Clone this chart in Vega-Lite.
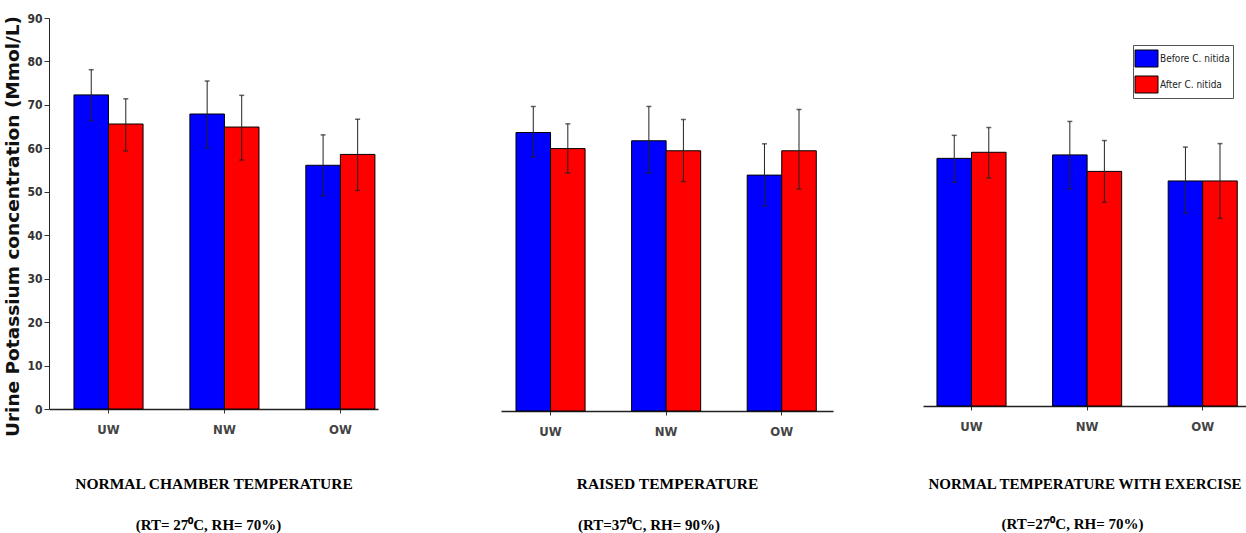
{
  "$schema": "https://vega.github.io/schema/vega-lite/v6.json",
  "padding": {"left": 3, "top": 12, "right": 0, "bottom": 0},
  "background": "#ffffff",
  "config": {"view": {"stroke": null}, "axis": {"grid": false}},
  "datasets": {
    "p1": [
      {"group": "UW", "phase": "Before C. nitida", "value": 72.3, "lo": 66.4, "hi": 78.1},
      {"group": "UW", "phase": "After C. nitida", "value": 65.6, "lo": 59.4, "hi": 71.4},
      {"group": "NW", "phase": "Before C. nitida", "value": 67.9, "lo": 60.1, "hi": 75.5},
      {"group": "NW", "phase": "After C. nitida", "value": 64.9, "lo": 57.3, "hi": 72.2},
      {"group": "OW", "phase": "Before C. nitida", "value": 56.1, "lo": 49.1, "hi": 63.1},
      {"group": "OW", "phase": "After C. nitida", "value": 58.6, "lo": 50.3, "hi": 66.7}
    ],
    "p2": [
      {"group": "UW", "phase": "Before C. nitida", "value": 64.1, "lo": 58.5, "hi": 70.1},
      {"group": "UW", "phase": "After C. nitida", "value": 60.4, "lo": 54.8, "hi": 66.1},
      {"group": "NW", "phase": "Before C. nitida", "value": 62.2, "lo": 54.8, "hi": 70.1},
      {"group": "NW", "phase": "After C. nitida", "value": 59.9, "lo": 52.8, "hi": 67.1},
      {"group": "OW", "phase": "Before C. nitida", "value": 54.3, "lo": 47.2, "hi": 61.5},
      {"group": "OW", "phase": "After C. nitida", "value": 59.9, "lo": 51.1, "hi": 69.4}
    ],
    "p3": [
      {"group": "UW", "phase": "Before C. nitida", "value": 57.0, "lo": 51.5, "hi": 62.3},
      {"group": "UW", "phase": "After C. nitida", "value": 58.4, "lo": 52.5, "hi": 64.1},
      {"group": "NW", "phase": "Before C. nitida", "value": 57.8, "lo": 50.0, "hi": 65.5},
      {"group": "NW", "phase": "After C. nitida", "value": 54.0, "lo": 46.9, "hi": 61.1},
      {"group": "OW", "phase": "Before C. nitida", "value": 51.8, "lo": 44.4, "hi": 59.6},
      {"group": "OW", "phase": "After C. nitida", "value": 51.8, "lo": 43.2, "hi": 60.4}
    ]
  },
  "spacing": 123,
  "resolve": {"scale": {"color": "independent"}},
  "hconcat": [
    {
      "width": 329,
      "height": 391,
      "data": {"name": "p1"},
      "title": {"text": "(RT= 27⁰C, RH= 70%)", "orient": "bottom", "anchor": "middle", "font": "Liberation Serif", "fontSize": 15, "fontWeight": "bold", "color": "#000", "offset": 26, "dx": -5},
      "layer": [
        {
          "mark": {"type": "bar", "stroke": "#000", "strokeWidth": 1},
          "encoding": {
            "x": {"field": "group", "type": "nominal", "sort": ["UW", "NW", "OW"],
              "scale": {"paddingInner": 0.404, "paddingOuter": 0.121, "align": 0.89},
              "axis": {"title": "NORMAL CHAMBER TEMPERATURE", "titleFont": "Liberation Serif", "titleFontSize": 15.5, "titleFontWeight": "bold", "titleColor": "#000", "titlePadding": 40,
                "labelAngle": 0, "labelFont": "Liberation Sans Narrow, DejaVu Sans Condensed, Liberation Sans", "labelFontSize": 13, "labelFontWeight": "bold", "labelColor": "#444", "labelPadding": 10, "labelBaseline": "top",
                "tickSize": 4, "tickColor": "#333", "domainColor": "#222", "domainWidth": 1.5}},
            "xOffset": {"field": "phase", "type": "nominal", "sort": ["Before C. nitida", "After C. nitida"], "scale": {"paddingInner": 0, "paddingOuter": 0}},
            "y": {"field": "value", "type": "quantitative", "scale": {"domain": [0, 90], "nice": false},
              "axis": {"title": "Urine Potassium concentration (Mmol/L)", "titleFont": "DejaVu Sans", "titleFontSize": 18.5, "titleFontWeight": "bold", "titleColor": "#111", "titlePadding": 4, "titleY": 208,
                "values": [0, 5, 10, 15, 20, 25, 30, 35, 40, 45, 50, 55, 60, 65, 70, 75, 80, 85, 90],
                "labelExpr": "datum.value % 10 === 0 ? datum.label : ''",
                "labelFont": "Liberation Sans Narrow, DejaVu Sans Condensed, Liberation Sans", "labelFontSize": 12, "labelFontWeight": "bold", "labelColor": "#333", "labelPadding": 2,
                "tickSize": {"condition": {"test": "datum.value % 10 === 0", "value": 5}, "value": 3},
                "tickColor": "#333", "domainColor": "#222", "domainWidth": 1}},
            "color": {"field": "phase", "type": "nominal", "scale": {"domain": ["Before C. nitida", "After C. nitida"], "range": ["#0000FF", "#FF0000"]}, "legend": null}
          }
        },
        {
          "mark": {"type": "rule", "color": "#222", "strokeWidth": 1},
          "encoding": {
            "x": {"field": "group", "type": "nominal", "sort": ["UW", "NW", "OW"]},
            "xOffset": {"field": "phase", "type": "nominal", "sort": ["Before C. nitida", "After C. nitida"]},
            "y": {"field": "lo", "type": "quantitative"},
            "y2": {"field": "hi"}
          }
        },
        {
          "mark": {"type": "tick", "orient": "horizontal", "color": "#222", "size": 5, "thickness": 1.5},
          "encoding": {
            "x": {"field": "group", "type": "nominal", "sort": ["UW", "NW", "OW"]},
            "xOffset": {"field": "phase", "type": "nominal", "sort": ["Before C. nitida", "After C. nitida"]},
            "y": {"field": "lo", "type": "quantitative"}
          }
        },
        {
          "mark": {"type": "tick", "orient": "horizontal", "color": "#222", "size": 5, "thickness": 1.5},
          "encoding": {
            "x": {"field": "group", "type": "nominal", "sort": ["UW", "NW", "OW"]},
            "xOffset": {"field": "phase", "type": "nominal", "sort": ["Before C. nitida", "After C. nitida"]},
            "y": {"field": "hi", "type": "quantitative"}
          }
        }
      ]
    },
    {
      "spacing": 90,
      "resolve": {"scale": {"color": "independent"}},
      "hconcat": [
        {
          "width": 332,
          "height": 393,
          "data": {"name": "p2"},
          "title": {"text": "(RT=37⁰C, RH= 90%)", "orient": "bottom", "anchor": "middle", "font": "Liberation Serif", "fontSize": 15, "fontWeight": "bold", "color": "#000", "offset": 26, "dx": -18},
          "layer": [
            {
              "mark": {"type": "bar", "stroke": "#000", "strokeWidth": 1},
              "encoding": {
                "x": {"field": "group", "type": "nominal", "sort": ["UW", "NW", "OW"],
                  "scale": {"paddingInner": 0.404, "paddingOuter": 0.138, "align": 0.47},
                  "axis": {"title": "RAISED TEMPERATURE", "titleFont": "Liberation Serif", "titleFontSize": 15.5, "titleFontWeight": "bold", "titleColor": "#000", "titlePadding": 38,
                    "labelAngle": 0, "labelFont": "Liberation Sans Narrow, DejaVu Sans Condensed, Liberation Sans", "labelFontSize": 13, "labelFontWeight": "bold", "labelColor": "#444", "labelPadding": 10, "labelBaseline": "top",
                    "tickSize": 4, "tickColor": "#333", "domainColor": "#222", "domainWidth": 1.5}},
                "xOffset": {"field": "phase", "type": "nominal", "sort": ["Before C. nitida", "After C. nitida"], "scale": {"paddingInner": 0, "paddingOuter": 0}},
                "y": {"field": "value", "type": "quantitative", "scale": {"domain": [0, 90.46], "nice": false}, "axis": null},
                "color": {"field": "phase", "type": "nominal", "scale": {"domain": ["Before C. nitida", "After C. nitida"], "range": ["#0000FF", "#FF0000"]}, "legend": null}
              }
            },
            {
              "mark": {"type": "rule", "color": "#222", "strokeWidth": 1},
              "encoding": {
                "x": {"field": "group", "type": "nominal", "sort": ["UW", "NW", "OW"]},
                "xOffset": {"field": "phase", "type": "nominal", "sort": ["Before C. nitida", "After C. nitida"]},
                "y": {"field": "lo", "type": "quantitative", "axis": null},
                "y2": {"field": "hi"}
              }
            },
            {
              "mark": {"type": "tick", "orient": "horizontal", "color": "#222", "size": 5, "thickness": 1.5},
              "encoding": {
                "x": {"field": "group", "type": "nominal", "sort": ["UW", "NW", "OW"]},
                "xOffset": {"field": "phase", "type": "nominal", "sort": ["Before C. nitida", "After C. nitida"]},
                "y": {"field": "lo", "type": "quantitative", "axis": null}
              }
            },
            {
              "mark": {"type": "tick", "orient": "horizontal", "color": "#222", "size": 5, "thickness": 1.5},
              "encoding": {
                "x": {"field": "group", "type": "nominal", "sort": ["UW", "NW", "OW"]},
                "xOffset": {"field": "phase", "type": "nominal", "sort": ["Before C. nitida", "After C. nitida"]},
                "y": {"field": "hi", "type": "quantitative", "axis": null}
              }
            }
          ]
        },
        {
          "width": 323,
          "height": 388,
          "data": {"name": "p3"},
          "title": {"text": "(RT=27⁰C, RH= 70%)", "orient": "bottom", "anchor": "middle", "font": "Liberation Serif", "fontSize": 15, "fontWeight": "bold", "color": "#000", "offset": 26, "dx": -12},
          "layer": [
            {
              "mark": {"type": "bar", "stroke": "#000", "strokeWidth": 1},
              "encoding": {
                "x": {"field": "group", "type": "nominal", "sort": ["UW", "NW", "OW"],
                  "scale": {"paddingInner": 0.404, "paddingOuter": 0.099, "align": 0.61},
                  "axis": {"title": "NORMAL TEMPERATURE WITH EXERCISE", "titleFont": "Liberation Serif", "titleFontSize": 15, "titleFontWeight": "bold", "titleColor": "#000", "titlePadding": 43,
                    "labelAngle": 0, "labelFont": "Liberation Sans Narrow, DejaVu Sans Condensed, Liberation Sans", "labelFontSize": 13, "labelFontWeight": "bold", "labelColor": "#444", "labelPadding": 10, "labelBaseline": "top",
                    "tickSize": 4, "tickColor": "#333", "domainColor": "#222", "domainWidth": 1.5}},
                "xOffset": {"field": "phase", "type": "nominal", "sort": ["Before C. nitida", "After C. nitida"], "scale": {"paddingInner": 0, "paddingOuter": 0}},
                "y": {"field": "value", "type": "quantitative", "scale": {"domain": [0, 89.31], "nice": false}, "axis": null},
                "color": {"field": "phase", "type": "nominal", "scale": {"domain": ["Before C. nitida", "After C. nitida"], "range": ["#0000FF", "#FF0000"]},
                  "legend": {"title": null, "orient": "none", "legendX": 210, "legendY": 27,
                    "symbolType": "M-1.15,-0.85L1.15,-0.85L1.15,0.85L-1.15,0.85Z", "symbolSize": 400, "symbolStrokeColor": "#000", "symbolStrokeWidth": 1, "symbolOpacity": 1,
                    "labelFont": "Liberation Sans Narrow, DejaVu Sans Condensed, Liberation Sans", "labelFontSize": 10, "labelColor": "#222", "labelOffset": 3,
                    "strokeColor": "#555", "fillColor": "#fff", "padding": 3, "rowPadding": 5}}
              }
            },
            {
              "mark": {"type": "rule", "color": "#222", "strokeWidth": 1},
              "encoding": {
                "x": {"field": "group", "type": "nominal", "sort": ["UW", "NW", "OW"]},
                "xOffset": {"field": "phase", "type": "nominal", "sort": ["Before C. nitida", "After C. nitida"]},
                "y": {"field": "lo", "type": "quantitative", "axis": null},
                "y2": {"field": "hi"}
              }
            },
            {
              "mark": {"type": "tick", "orient": "horizontal", "color": "#222", "size": 5, "thickness": 1.5},
              "encoding": {
                "x": {"field": "group", "type": "nominal", "sort": ["UW", "NW", "OW"]},
                "xOffset": {"field": "phase", "type": "nominal", "sort": ["Before C. nitida", "After C. nitida"]},
                "y": {"field": "lo", "type": "quantitative", "axis": null}
              }
            },
            {
              "mark": {"type": "tick", "orient": "horizontal", "color": "#222", "size": 5, "thickness": 1.5},
              "encoding": {
                "x": {"field": "group", "type": "nominal", "sort": ["UW", "NW", "OW"]},
                "xOffset": {"field": "phase", "type": "nominal", "sort": ["Before C. nitida", "After C. nitida"]},
                "y": {"field": "hi", "type": "quantitative", "axis": null}
              }
            }
          ]
        }
      ]
    }
  ]
}
